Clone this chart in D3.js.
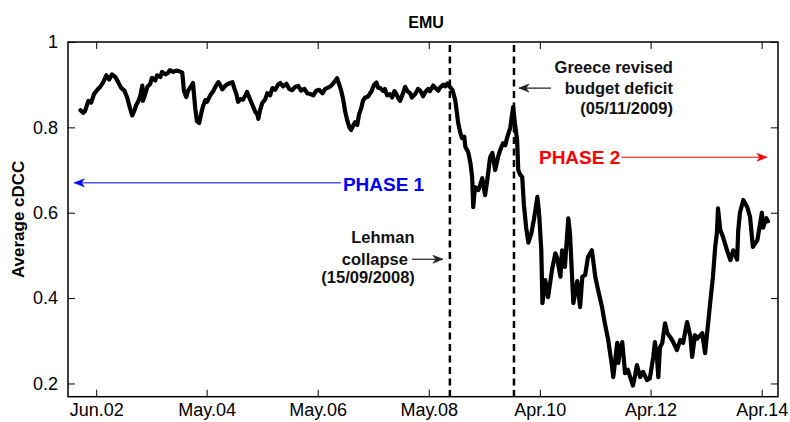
<!DOCTYPE html>
<html>
<head>
<meta charset="utf-8">
<script src="https://cdn.jsdelivr.net/npm/d3@7"></script>
<style>
  body { margin: 0; background: #fff; }
  svg { display: block; font-family: "Liberation Sans", Arial, sans-serif; }
</style>
</head>
<body>
<svg></svg>
<script>
// chart size
let width = 790;
let height = 422;
let margin = { top: 42, right: 12, bottom: 25.3, left: 68 };

// dates as decimal years
const years = [
  2002.14, 2002.19, 2002.22, 2002.28, 2002.33, 2002.38, 2002.44, 2002.49, 2002.54, 2002.60,
  2002.65, 2002.70, 2002.76, 2002.81, 2002.86, 2002.92, 2002.97, 2003.02, 2003.06, 2003.10,
  2003.13, 2003.17, 2003.20, 2003.24, 2003.25, 2003.29, 2003.33, 2003.38, 2003.41, 2003.47,
  2003.50, 2003.56, 2003.59, 2003.65, 2003.70, 2003.73, 2003.79, 2003.84, 2003.89, 2003.95,
  2003.98, 2004.02, 2004.05, 2004.09, 2004.14, 2004.18, 2004.21, 2004.25, 2004.29, 2004.32,
  2004.36, 2004.39, 2004.45, 2004.50, 2004.55, 2004.59, 2004.62, 2004.66, 2004.71, 2004.75,
  2004.80, 2004.84, 2004.87, 2004.91, 2004.94, 2004.98, 2005.03, 2005.07, 2005.10, 2005.14,
  2005.17, 2005.21, 2005.25, 2005.28, 2005.30, 2005.33, 2005.37, 2005.42, 2005.46, 2005.51,
  2005.55, 2005.60, 2005.65, 2005.69, 2005.74, 2005.80, 2005.85, 2005.90, 2005.96, 2006.01,
  2006.06, 2006.12, 2006.17, 2006.22, 2006.28, 2006.33, 2006.38, 2006.44, 2006.49, 2006.54,
  2006.60, 2006.65, 2006.70, 2006.74, 2006.77, 2006.81, 2006.84, 2006.88, 2006.92, 2006.95,
  2006.99, 2007.02, 2007.06, 2007.09, 2007.13, 2007.16, 2007.20, 2007.25, 2007.31, 2007.36,
  2007.40, 2007.43, 2007.47, 2007.52, 2007.55, 2007.59, 2007.64, 2007.68, 2007.72, 2007.75,
  2007.79, 2007.82, 2007.86, 2007.91, 2007.95, 2008.00, 2008.03, 2008.09, 2008.14, 2008.18,
  2008.23, 2008.27, 2008.32, 2008.35, 2008.41, 2008.44, 2008.50, 2008.53, 2008.59, 2008.62,
  2008.66, 2008.69, 2008.75, 2008.80, 2008.83, 2008.85, 2008.89, 2008.92, 2008.96, 2008.98,
  2009.03, 2009.07, 2009.10, 2009.12, 2009.15, 2009.21, 2009.24, 2009.28, 2009.33, 2009.37,
  2009.42, 2009.46, 2009.51, 2009.56, 2009.60, 2009.65, 2009.69, 2009.72, 2009.78, 2009.81,
  2009.83, 2009.86, 2009.90, 2009.92, 2009.95, 2009.99, 2010.02, 2010.06, 2010.10, 2010.15,
  2010.20, 2010.26, 2010.29, 2010.33, 2010.35, 2010.40, 2010.45, 2010.52, 2010.58, 2010.61,
  2010.67, 2010.70, 2010.75, 2010.81, 2010.84, 2010.90, 2010.97, 2011.02, 2011.06, 2011.11,
  2011.16, 2011.23, 2011.29, 2011.34, 2011.41, 2011.46, 2011.52, 2011.59, 2011.61, 2011.68,
  2011.70, 2011.73, 2011.77, 2011.82, 2011.87, 2011.91, 2011.96, 2012.00, 2012.03, 2012.09,
  2012.14, 2012.21, 2012.26, 2012.32, 2012.35, 2012.39, 2012.41, 2012.44, 2012.48, 2012.53,
  2012.57, 2012.62, 2012.67, 2012.74, 2012.80, 2012.85, 2012.92, 2012.98, 2013.01, 2013.06,
  2013.10, 2013.19, 2013.24, 2013.30, 2013.33, 2013.38, 2013.42, 2013.45, 2013.47, 2013.51,
  2013.56, 2013.63, 2013.69, 2013.74, 2013.81, 2013.83, 2013.86, 2013.92, 2013.99, 2014.04,
  2014.09, 2014.17, 2014.22, 2014.25, 2014.27, 2014.33, 2014.36
];
const cdcc = [
  0.840, 0.834, 0.838, 0.862, 0.858, 0.878, 0.888, 0.895, 0.905, 0.922,
  0.912, 0.924, 0.918, 0.906, 0.893, 0.886, 0.870, 0.845, 0.828, 0.840,
  0.852, 0.862, 0.872, 0.898, 0.862, 0.878, 0.895, 0.902, 0.916, 0.910,
  0.922, 0.918, 0.930, 0.924, 0.928, 0.934, 0.930, 0.933, 0.932, 0.928,
  0.885, 0.871, 0.885, 0.893, 0.904, 0.845, 0.815, 0.810, 0.835, 0.850,
  0.864, 0.860, 0.876, 0.885, 0.898, 0.906, 0.900, 0.889, 0.897, 0.901,
  0.904, 0.906, 0.893, 0.878, 0.860, 0.866, 0.865, 0.875, 0.883, 0.870,
  0.860, 0.848, 0.835, 0.832, 0.820, 0.840, 0.857, 0.865, 0.880, 0.875,
  0.892, 0.888, 0.900, 0.904, 0.896, 0.902, 0.890, 0.887, 0.895, 0.897,
  0.886, 0.890, 0.880, 0.878, 0.875, 0.886, 0.888, 0.880, 0.890, 0.893,
  0.898, 0.906, 0.915, 0.900, 0.888, 0.865, 0.840, 0.817, 0.800, 0.794,
  0.805, 0.812, 0.806, 0.830, 0.845, 0.862, 0.870, 0.872, 0.884, 0.900,
  0.905, 0.893, 0.892, 0.885, 0.890, 0.875, 0.878, 0.870, 0.885, 0.880,
  0.868, 0.862, 0.875, 0.895, 0.885, 0.880, 0.870, 0.878, 0.890, 0.886,
  0.873, 0.883, 0.890, 0.885, 0.898, 0.893, 0.886, 0.893, 0.900, 0.896,
  0.903, 0.897, 0.888, 0.864, 0.834, 0.812, 0.787, 0.775, 0.778, 0.754,
  0.742, 0.716, 0.684, 0.613, 0.660, 0.653, 0.664, 0.681, 0.641, 0.677,
  0.730, 0.740, 0.700, 0.730, 0.747, 0.763, 0.758, 0.775, 0.800, 0.830,
  0.848, 0.810, 0.770, 0.700, 0.690, 0.684, 0.620, 0.566, 0.530, 0.550,
  0.585, 0.637, 0.600, 0.512, 0.388, 0.442, 0.402, 0.466, 0.505, 0.495,
  0.450, 0.512, 0.473, 0.587, 0.552, 0.388, 0.440, 0.379, 0.450, 0.454,
  0.496, 0.512, 0.450, 0.419, 0.379, 0.341, 0.302, 0.238, 0.215, 0.295,
  0.248, 0.280, 0.297, 0.224, 0.232, 0.215, 0.195, 0.220, 0.243, 0.215,
  0.227, 0.208, 0.212, 0.262, 0.297, 0.255, 0.215, 0.285, 0.295, 0.341,
  0.318, 0.309, 0.298, 0.278, 0.302, 0.295, 0.344, 0.310, 0.262, 0.313,
  0.305, 0.318, 0.271, 0.348, 0.388, 0.450, 0.520, 0.552, 0.610, 0.560,
  0.543, 0.512, 0.489, 0.512, 0.490, 0.559, 0.600, 0.630, 0.613, 0.590,
  0.520, 0.536, 0.576, 0.600, 0.565, 0.587, 0.580
];

const xTickDates = ["2002-06-03", "2004-05-20", "2006-05-11", "2008-05-01", "2010-04-22", "2012-04-10", "2014-04-01"];
const yTicks = [0.2, 0.4, 0.6, 0.8, 1];
const eventDates = ["2008-09-15", "2009-11-05"];   // Lehman, Greece
const xDomain = ["2001-12-02", "2014-07-16"];
const yDomain = [0.169, 1];

const parseDate = d3.timeParse("%Y-%m-%d");
const fmtTick = d3.timeFormat("%b.%y");

// decimal year -> Date
function yearToDate(y) {
  let yr = Math.floor(y);
  let start = new Date(yr, 0, 1), end = new Date(yr + 1, 0, 1);
  return new Date(+start + (y - yr) * (end - start));
}

let data = years.map((y, i) => ({ date: yearToDate(y), value: cdcc[i] }));

const svg = d3.select("svg").attr("width", width).attr("height", height);

let x = d3.scaleTime()
  .domain(xDomain.map(parseDate))
  .range([margin.left, width - margin.right]);
let y = d3.scaleLinear()
  .domain(yDomain)
  .range([height - margin.bottom, margin.top]);

let x0 = margin.left, x1 = width - margin.right;
let y0 = height - margin.bottom, y1 = margin.top;
let tickLen = 7;

// axes, ticks point inward on all four sides
let tickDates = xTickDates.map(parseDate);
svg.append("g")
  .attr("transform", `translate(0,${y0})`)
  .call(d3.axisBottom(x).tickValues(tickDates).tickFormat(fmtTick).tickSize(-tickLen).tickPadding(7))
  .call(g => g.select(".domain").remove())
  .call(g => g.selectAll("line").attr("stroke", "#000"))
  .call(g => g.selectAll("text").attr("font-size", 18).attr("fill", "#000"));
svg.append("g")
  .attr("transform", `translate(0,${y1})`)
  .call(d3.axisTop(x).tickValues(tickDates).tickFormat("").tickSize(-tickLen))
  .call(g => g.select(".domain").remove());
svg.append("g")
  .attr("transform", `translate(${x0},0)`)
  .call(d3.axisLeft(y).tickValues(yTicks).tickFormat(d3.format("")).tickSize(-tickLen).tickPadding(10))
  .call(g => g.select(".domain").remove())
  .call(g => g.selectAll("text").attr("font-size", 18).attr("fill", "#000"));
svg.append("g")
  .attr("transform", `translate(${x1},0)`)
  .call(d3.axisRight(y).tickValues(yTicks).tickFormat("").tickSize(-tickLen))
  .call(g => g.select(".domain").remove());

// frame
svg.append("rect")
  .attr("x", x0).attr("y", y1)
  .attr("width", x1 - x0).attr("height", y0 - y1)
  .attr("fill", "none").attr("stroke", "#000").attr("stroke-width", 1.5);

// the cDCC series
let line = d3.line().x(d => x(d.date)).y(d => y(d.value));
svg.append("path")
  .datum(data)
  .attr("d", line)
  .attr("fill", "none")
  .attr("stroke", "#000")
  .attr("stroke-width", 4.2)
  .attr("stroke-linejoin", "round")
  .attr("stroke-linecap", "round");

// event lines
let xL = x(parseDate(eventDates[0]));
let xG = x(parseDate(eventDates[1]));
svg.selectAll(".event")
  .data(eventDates)
  .enter()
  .append("line")
  .attr("class", "event")
  .attr("x1", d => x(parseDate(d))).attr("x2", d => x(parseDate(d)))
  .attr("y1", y1 + 3).attr("y2", y0)
  .attr("stroke", "#000")
  .attr("stroke-width", 2.5)
  .attr("stroke-dasharray", "7,4.5");

// arrow helper: shaft from (ax,ay) to tip (bx,ay)
function arrow(ax, bx, ay, color, w) {
  let dir = bx > ax ? 1 : -1;
  svg.append("line")
    .attr("x1", ax).attr("x2", bx).attr("y1", ay).attr("y2", ay)
    .attr("stroke", color).attr("stroke-width", w);
  svg.append("path")
    .attr("d", `M${bx - dir * 10},${ay - 4} L${bx},${ay} L${bx - dir * 10},${ay + 4} L${bx - dir * 7},${ay} Z`)
    .attr("fill", color).attr("stroke", color).attr("stroke-width", 0.6)
    .attr("stroke-linejoin", "miter");
}

function label(tx, ty, txt, anchor, size, color) {
  return svg.append("text")
    .attr("x", tx).attr("y", ty)
    .attr("text-anchor", anchor)
    .attr("font-size", size)
    .attr("font-weight", "bold")
    .attr("fill", color)
    .text(txt);
}

// Greece annotation
let gy = y(0.892);
arrow(xG + 37, xG + 5, gy, "#222", 1.2);
label(xG + 159, gy - 15, "Greece revised", "end", 16.5, "#111");
label(xG + 159, gy + 6, "budget deficit", "end", 16.5, "#111");
label(xG + 159, gy + 26, "(05/11/2009)", "end", 16.5, "#111");

// Lehman annotation
let ly = y(0.491);
arrow(xL - 38, xL - 7, ly, "#222", 1.2);
label(xL - 67, ly - 16, "Lehman", "middle", 16.5, "#111");
label(xL - 42, ly + 6, "collapse", "end", 16.5, "#111");
label(xL - 35, ly + 24, "(15/09/2008)", "end", 16.5, "#111");

// phases
let p1y = y(0.670);
let p1 = label(xL - 107, p1y + 8, "PHASE 1", "start", 19, "#0000ff");
arrow(xL - 109, x(yearToDate(2002.03)), p1y, "#0000ff", 1);
let p2y = y(0.730);
let p2 = label(xG + 25, p2y + 7, "PHASE 2", "start", 19, "#ff0000");
let p2w = p2.node().getComputedTextLength();
arrow(xG + 25 + p2w + 1, x(yearToDate(2014.34)), p2y, "#ff0000", 1);

// title and y label
svg.append("text")
  .attr("x", (x0 + x1) / 2 + 3).attr("y", 28)
  .attr("text-anchor", "middle")
  .attr("font-size", 16).attr("font-weight", "bold")
  .text("EMU");
svg.append("text")
  .attr("transform", `translate(24,${(y0 + y1) / 2}) rotate(-90)`)
  .attr("text-anchor", "middle")
  .attr("font-size", 17).attr("font-weight", "bold")
  .text("Average cDCC");
</script>
</body>
</html>
